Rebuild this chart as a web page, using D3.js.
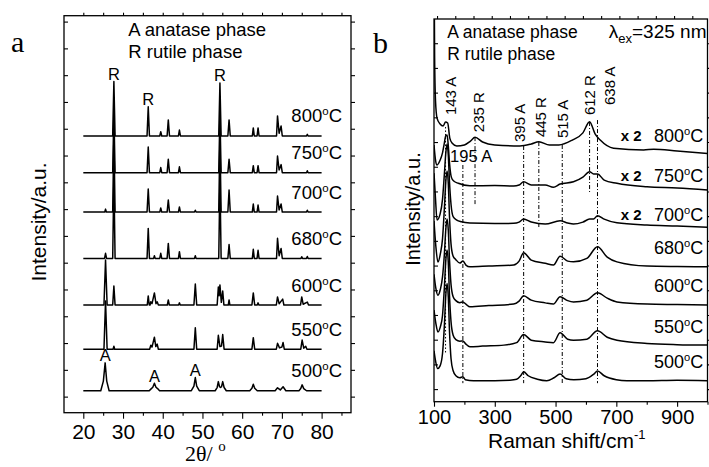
<!DOCTYPE html>
<html>
<head>
<meta charset="utf-8">
<script src="https://cdn.jsdelivr.net/npm/d3@7"></script>
<style>
  body { margin: 0; background: #fff; }
  svg { display: block; font-family: "Liberation Sans", Arial, sans-serif; }
  .serif { font-family: "Liberation Serif", "Times New Roman", serif; }
</style>
</head>
<body>
<svg id="chart" width="709" height="467"></svg>
<script>
// temperatures, top to bottom
const temps = ["800", "750", "700", "680", "600", "550", "500"];

// ---- panel a: XRD, 2theta vs intensity (a.u. above each baseline)
const xrdOffsets = [9.73, 8.36, 6.89, 5.16, 3.42, 1.77, 0.22];
const xrd800 = [[20,0],[27.4,0],[27.7,2.03],[28,0],[36.05,0],[36.35,1.09],[36.65,0],[39.25,0],[39.5,0.16],[39.75,0],
  [41.1,0],[41.4,0.6],[41.7,0],[43.95,0],[44.2,0.22],[44.45,0],[54.1,0],[54.4,1.98],[54.7,0],[56.4,0],[56.7,0.6],[57,0],
  [62.55,0],[62.8,0.3],[63.05,0],[63.75,0],[64,0.3],[64.25,0],[68.65,0],[68.9,0.75],[69.3,0.1],[69.8,0.37],[70.1,0],
  [76.2,0],[76.4,0.06],[76.6,0],[80,0]];
const xrd750 = [[20,0],[27.4,0],[27.7,2.3],[28,0],[36.05,0],[36.35,0.96],[36.65,0],[39.25,0],[39.5,0.19],[39.75,0],
  [41.1,0],[41.4,0.5],[41.7,0],[43.95,0],[44.2,0.22],[44.45,0],[54.1,0],[54.4,2.2],[54.7,0],[56.4,0],[56.7,0.5],[57,0],
  [62.55,0],[62.8,0.26],[63.05,0],[63.75,0],[64,0.26],[64.25,0],[68.65,0],[68.9,0.62],[69.3,0.1],[69.8,0.3],[70.1,0],
  [76.2,0],[76.4,0.07],[76.6,0],[80,0]];
const xrd700 = [[20,0],[25.4,0],[25.6,0.11],[25.8,0],[27.4,0],[27.7,2.9],[28,0],[36.05,0],[36.35,0.86],[36.65,0],
  [39.25,0],[39.5,0.15],[39.75,0],[41.1,0],[41.4,0.45],[41.7,0],[43.95,0],[44.2,0.19],[44.45,0],[48,0],[48.2,0.07],[48.4,0],
  [54.1,0],[54.4,2.8],[54.7,0],[56.4,0],[56.7,0.82],[57,0],[62.55,0],[62.8,0.3],[63.05,0],[63.75,0],[64,0.26],[64.25,0],
  [68.65,0],[68.9,0.6],[69.3,0.08],[69.8,0.3],[70.1,0],[76.2,0],[76.4,0.07],[76.6,0],[80,0]];
const xrd680 = [[20,0],[25.35,0],[25.6,0.19],[25.85,0],[27.4,0],[27.7,3.1],[28,0],[36.05,0],[36.35,1.12],[36.65,0],
  [37.7,0],[37.9,0.1],[38.1,0],[39.25,0],[39.5,0.19],[39.75,0],[41.1,0],[41.4,0.56],[41.7,0],[43.95,0],[44.2,0.25],[44.45,0],
  [48,0],[48.2,0.1],[48.4,0],[54.1,0],[54.4,3.0],[54.7,0],[56.4,0],[56.7,0.52],[57,0],[62.55,0],[62.8,0.34],[63.05,0],
  [63.75,0],[64,0.3],[64.25,0],[68.65,0],[68.9,0.75],[69.3,0.1],[69.8,0.37],[70.1,0],[74.8,0],[75,0.06],[75.2,0],
  [76.2,0],[76.4,0.07],[76.6,0],[80,0]];
const xrd600 = [[20,0],[25.2,0],[25.6,1.68],[26,0],[27.4,0],[27.7,0.71],[28,0],[36.1,0],[36.35,0.34],[36.6,0],[36.8,0],
  [37,0.12],[37.3,0.05],[37.9,0.45],[38.3,0.05],[38.6,0.12],[38.9,0],[41.15,0],[41.4,0.19],[41.65,0],[44,0],[44.2,0.08],[44.4,0],
  [47.85,0],[48.2,0.78],[48.55,0],[53.7,0],[54,0.67],[54.2,0.35],[54.4,0.75],[54.75,0.1],[55.1,0.52],[55.4,0],[56.5,0],
  [56.7,0.19],[56.9,0],[62.45,0],[62.8,0.45],[63.15,0],[63.8,0],[64,0.08],[64.2,0],[68.6,0],[68.9,0.3],[69.3,0.05],
  [70.2,0.22],[70.5,0],[74.7,0],[75,0.3],[75.35,0.03],[76.4,0.11],[76.7,0],[80,0]];
const xrd550 = [[20,0],[25.2,0],[25.6,1.8],[26,0],[27.5,0],[27.7,0.11],[27.9,0],[36.7,0],[37,0.15],[37.3,0.08],[37.9,0.45],
  [38.25,0.1],[38.6,0.19],[38.9,0],[47.85,0],[48.2,0.8],[48.55,0],[53.7,0],[54,0.52],[54.4,0.1],[54.8,0.12],[55.1,0.55],
  [55.45,0],[62.45,0],[62.8,0.43],[63.15,0],[68.6,0],[68.9,0.22],[69.4,0.05],[70,0.08],[70.3,0.25],[70.6,0],[74.75,0],
  [75.1,0.34],[75.5,0.04],[76,0.11],[76.3,0],[80,0]];
const xrd500 = [[20,0],[24.4,0],[25.05,0.36],[25.5,1.04],[25.9,0.36],[26.5,0],[36.6,0],[37,0.06],[37.5,0.13],[37.9,0.28],
  [38.3,0.13],[38.7,0.08],[39.2,0],[47.2,0],[47.85,0.17],[48.2,0.49],[48.55,0.17],[49.2,0],[53.2,0],[53.7,0.12],[54,0.34],
  [54.3,0.15],[54.55,0.12],[54.8,0.15],[55.1,0.34],[55.45,0.12],[56,0],[61.9,0],[62.45,0.09],[62.8,0.24],[63.15,0.09],
  [63.8,0],[68.3,0],[68.9,0.11],[69.6,0.03],[70.3,0.15],[71,0],[74.3,0],[74.75,0.08],[75.1,0.22],[75.5,0.08],[76.2,0],[80,0]];
const xrdSeries = [xrd800, xrd750, xrd700, xrd680, xrd600, xrd550, xrd500];
// phase marks: letter, 2theta, series index
const xrdMarks = [["R", 27.7, 0], ["R", 36.35, 0], ["R", 54.4, 0], ["A", 25.5, 6], ["A", 37.9, 6], ["A", 48.2, 6]];
const xrdTicks = [20, 30, 40, 50, 60, 70, 80];

// ---- panel b: Raman, shift vs intensity (a.u. above each baseline)
const ramanOffsets = [9.84, 8.26, 6.68, 4.98, 3.44, 1.78, 0.34];
const ramanScaled = [true, true, true, false, false, false, false];
const r800 = [[100,8.1],[102,3.64],[105,1.82],[110,1.13],[120,0.89],[130,0.81],[138,0.97],[145,0.93],[152,0.32],[160,0.11],
  [175,0],[200,0.04],[220,0.2],[235,0.35],[260,0.16],[300,0.04],[383,0],[420,0.08],[445,0.17],[480,0.04],[511,0.04],
  [555,0.24],[590,0.53],[612,0.98],[630,0.49],[647,0.24],[691,-0.09],[790,-0.16],[823,-0.13],[900,-0.2],[1000,-0.3]];
const r750 = [[100,1.62],[105,1.01],[110,0.81],[120,1.0],[128,1.3],[134,1.7],[139,2.0],[143,2.02],[147,1.6],[151,0.9],
  [157,0.32],[165,0.16],[180,0.07],[218,-0.03],[300,-0.02],[362,-0.04],[380,0],[395,0.13],[420,0],[466,0],[493,-0.09],
  [515,0.04],[559,0.13],[590,0.32],[612,0.54],[625,0.45],[638,0.45],[660,0.2],[702,0.07],[801,-0.07],[900,-0.12],[1000,-0.2]];
const r700 = [[100,2.06],[105,1.01],[110,0.16],[120,0.4],[128,1.0],[134,2.0],[139,2.9],[143,3.24],[147,2.8],[151,1.7],
  [156,0.8],[163,0.3],[175,0.16],[190,0.09],[218,0.04],[300,0.02],[362,0.03],[380,0.08],[395,0.2],[420,0.08],[466,0],
  [515,0.13],[540,0.04],[559,0],[590,0.08],[612,0.2],[625,0.2],[638,0.34],[660,0.2],[702,0.05],[801,-0.04],[900,-0.08],[1000,-0.13]];
const r680 = [[100,1.82],[106,0.81],[113,0.16],[121,0.5],[128,1.1],[134,2.3],[139,3.45],[143,3.85],[147,3.35],[151,2.0],
  [156,0.9],[163,0.4],[172,0.26],[185,0.12],[195,0.2],[205,0.04],[218,-0.03],[280,0],[362,0.04],[380,0.2],[395,0.54],
  [420,0.24],[466,0.11],[493,0.04],[515,0.4],[540,0.2],[559,0.17],[603,0.31],[638,0.78],[670,0.36],[702,0.17],[801,0],
  [900,-0.02],[1000,-0.03]];
const r600 = [[100,1.21],[106,0.65],[113,0.36],[121,0.6],[128,1.1],[134,2.0],[139,3.05],[143,3.44],[147,3.0],[151,1.8],
  [156,0.8],[163,0.3],[172,0.14],[185,0.06],[195,0.09],[205,0],[218,-0.11],[280,-0.06],[362,0],[380,0.12],[395,0.34],
  [420,0.16],[466,0.05],[493,0],[515,0.3],[540,0.14],[559,0.09],[603,0.16],[638,0.46],[670,0.24],[702,0.09],[801,0],
  [900,-0.02],[1000,-0.04]];
const r550 = [[100,1.42],[106,0.89],[113,0.53],[121,0.75],[128,1.2],[134,2.3],[139,3.45],[143,3.85],[147,3.35],[151,2.0],
  [156,0.95],[163,0.4],[172,0.22],[185,0.16],[195,0.17],[205,0.04],[218,-0.07],[260,-0.04],[330,0],[372,0.1],[395,0.43],
  [420,0.2],[466,0.13],[493,0.1],[515,0.5],[540,0.24],[559,0.2],[603,0.24],[638,0.58],[670,0.32],[702,0.2],[801,0.07],
  [900,0.02],[1000,0]];
const r500 = [[100,1.21],[105,0.81],[112,0.49],[120,0.6],[128,1.1],[134,2.2],[139,3.5],[143,3.93],[147,3.4],[151,2.0],
  [156,0.9],[163,0.4],[172,0.2],[185,0.12],[195,0.16],[203,0.04],[230,0],[300,0],[350,0.02],[372,0.06],[385,0.2],[395,0.36],
  [410,0.2],[440,0.06],[471,0],[495,0.12],[515,0.27],[535,0.08],[560,0.04],[600,0.08],[625,0.26],[638,0.39],[660,0.2],
  [700,0.04],[735,0],[800,0],[900,0.02],[1000,0]];
const ramanSeries = [r800, r750, r700, r680, r600, r550, r500];
// guide lines: shift, top, bottom (a.u.)
const ramanGuides = [[138,10.61,1.46],[195,9.07,0.24],[235,10.2,7.45],[395,9.84,0.24],[445,10.0,6.52],
  [522,9.88,0.24],[612,10.81,7.94],[638,10.89,0.24]];
// vertical band labels: text, shift, lower end (a.u.)
const ramanLabels = [["143 A",153,11.09],["235 R",246,10.4],["395 A",380,10.0],["445 R",449,10.2],
  ["515 A",523,10.16],["612 R",611,11.09],["638 A",677,11.5]];
const ramanTicks = [100, 300, 500, 700, 900];

const svg = d3.select("#chart");

const xA = d3.scaleLinear().domain([15.14, 87.4]).range([64, 351]);
const yA = d3.scaleLinear().domain([-0.6, 14.22]).range([412.7, 15.7]);
const xB = d3.scaleLinear().domain([100, 1000]).range([434, 707.5]);
const yB = d3.scaleLinear().domain([-0.51, 14.98]).range([401.7, 19]);

function frame(x, y, w, h) {
  svg.append("rect").attr("x", x).attr("y", y).attr("width", w).attr("height", h)
    .attr("fill", "none").attr("stroke", "#000").attr("stroke-width", 1.3);
}

function cleanAxis(g) {
  g.select(".domain").remove();
  g.selectAll("line").attr("stroke", "#000").attr("stroke-width", 1.1);
}

function supLabel(sel, t) {
  sel.text(t);
  sel.append("tspan").attr("dy", -7).attr("font-size", "0.62em").text("o");
  sel.append("tspan").attr("dy", 7).text("C");
}

// ================= panel a =================
svg.append("clipPath").attr("id", "clipA").append("rect")
  .attr("x", 64).attr("y", 15.7).attr("width", 287).attr("height", 397);

const lineA = d3.line().x(d => xA(d[0]));
xrdSeries.forEach((s, i) => {
  svg.append("path")
    .attr("clip-path", "url(#clipA)")
    .attr("d", lineA.y(d => yA(d[1] + xrdOffsets[i]))(s))
    .attr("fill", "none").attr("stroke", "#000").attr("stroke-width", 1.5)
    .attr("stroke-linejoin", "round");
});

frame(64, 15.7, 287, 397);

svg.append("g").attr("transform", "translate(0,412.7)")
  .call(d3.axisBottom(xA).tickValues(xrdTicks).tickSize(6).tickPadding(5.5))
  .call(cleanAxis)
  .call(g => g.selectAll("text").attr("font-size", 21).attr("font-family", "Liberation Sans, Arial").attr("fill", "#000"));
svg.append("g").attr("transform", "translate(0,412.7)")
  .call(d3.axisBottom(xA).tickValues(d3.range(25, 90, 10)).tickSize(3).tickFormat(""))
  .call(cleanAxis);
svg.append("g").attr("transform", "translate(0,15.7)")
  .call(d3.axisTop(xA).tickValues(d3.range(20, 90, 5)).tickSize(3).tickFormat(""))
  .call(cleanAxis);
svg.append("g").attr("transform", "translate(64,0)")
  .call(d3.axisRight(yA).tickValues(d3.range(0, 15)).tickSize(4).tickFormat(""))
  .call(cleanAxis);
svg.append("g").attr("transform", "translate(351,0)")
  .call(d3.axisRight(yA).tickValues(d3.range(0, 15)).tickSize(4).tickFormat(""))
  .call(cleanAxis);

// temperature labels
temps.forEach((t, i) => {
  svg.append("text").attr("x", 342).attr("y", yA(xrdOffsets[i]) - 13.5)
    .attr("text-anchor", "end").attr("font-size", 18.5)
    .call(supLabel, t);
});

// phase marks
xrdMarks.forEach(([letter, pos, si]) => {
  const pt = xrdSeries[si].find(p => p[0] === pos);
  svg.append("text").attr("x", xA(pos)).attr("y", yA(pt[1] + xrdOffsets[si]) - 1.5)
    .attr("text-anchor", "middle").attr("font-size", 16.5).text(letter);
});

svg.append("text").attr("x", 128.3).attr("y", 36).attr("font-size", 18.5).text("A anatase phase");
svg.append("text").attr("x", 128.3).attr("y", 57.5).attr("font-size", 18.5).text("R rutile phase");

svg.append("text").attr("transform", "translate(38,222) rotate(-90)")
  .attr("text-anchor", "middle").attr("dominant-baseline", "central")
  .attr("font-size", 21).text("Intensity/a.u.");

const xtA = svg.append("text").attr("class", "serif").attr("x", 185).attr("y", 461).attr("font-size", 22).text("2θ/ ");
xtA.append("tspan").attr("dy", -10).attr("font-size", 15).text("o");

svg.append("text").attr("class", "serif").attr("x", 11).attr("y", 52).attr("font-size", 30).text("a");

// ================= panel b =================
svg.append("clipPath").attr("id", "clipB").append("rect")
  .attr("x", 434).attr("y", 19).attr("width", 273.5).attr("height", 382.7);

ramanGuides.forEach(([s, top, bot], i) => {
  svg.append("line")
    .attr("x1", xB(s)).attr("x2", xB(s)).attr("y1", yB(top)).attr("y2", yB(bot))
    .attr("stroke", "#000").attr("stroke-width", 1)
    .attr("stroke-dasharray", i === 0 ? "1.5,2" : "4,2,1,2");
});

const lineB = d3.line().x(d => xB(d[0])).curve(d3.curveMonotoneX);
ramanSeries.forEach((s, i) => {
  svg.append("path")
    .attr("clip-path", "url(#clipB)")
    .attr("d", lineB.y(d => yB(d[1] + ramanOffsets[i]))(s))
    .attr("fill", "none").attr("stroke", "#000").attr("stroke-width", 1.5)
    .attr("stroke-linejoin", "round");
});

frame(434, 19, 273.5, 382.7);

svg.append("g").attr("transform", "translate(0,401.7)")
  .call(d3.axisBottom(xB).tickValues(ramanTicks).tickSize(5).tickPadding(3.4))
  .call(cleanAxis)
  .call(g => g.selectAll("text").attr("font-size", 20).attr("font-family", "Liberation Sans, Arial").attr("fill", "#000"));
svg.append("g").attr("transform", "translate(0,401.7)")
  .call(d3.axisBottom(xB).tickValues(d3.range(200, 1001, 200)).tickSize(3).tickFormat(""))
  .call(cleanAxis);
svg.append("g").attr("transform", "translate(0,19)")
  .call(d3.axisTop(xB).tickValues(d3.range(110, 1000, 60)).tickSize(3).tickFormat(""))
  .call(cleanAxis);
svg.append("g").attr("transform", "translate(434,0)")
  .call(d3.axisRight(yB).tickValues(d3.range(0, 15)).tickSize(4).tickFormat(""))
  .call(cleanAxis);
svg.append("g").attr("transform", "translate(707.5,0)")
  .call(d3.axisRight(yB).tickValues(d3.range(0, 15)).tickSize(4).tickFormat(""))
  .call(cleanAxis);

temps.forEach((t, i) => {
  const yb = yB(ramanOffsets[i]) - (ramanScaled[i] ? 10 : 19) + 6.5;
  svg.append("text").attr("x", 703.3).attr("y", yb)
    .attr("text-anchor", "end").attr("font-size", 18)
    .call(supLabel, t);
  if (ramanScaled[i]) {
    svg.append("text").attr("x", 641.5).attr("y", yb - 1)
      .attr("text-anchor", "end").attr("font-size", 15).attr("font-weight", "bold").text("x 2");
  }
});

ramanLabels.forEach(([txt, s, v]) => {
  svg.append("text")
    .attr("transform", `translate(${xB(s)},${yB(v)}) rotate(-90)`)
    .attr("dominant-baseline", "central").attr("font-size", 15).text(txt);
});
svg.append("text").attr("x", xB(153)).attr("y", yB(9.19)).attr("font-size", 16.5).text("195 A");

svg.append("text").attr("x", 447.3).attr("y", 38).attr("font-size", 17.5).text("A anatase phase");
svg.append("text").attr("x", 447.3).attr("y", 60).attr("font-size", 17.5).text("R rutile phase");
const lam = svg.append("text").attr("x", 706.5).attr("y", 38).attr("text-anchor", "end").attr("font-size", 19);
lam.append("tspan").text("λ");
lam.append("tspan").attr("dy", 5).attr("font-size", 13).text("ex");
lam.append("tspan").attr("dy", -5).text("=325 nm");

svg.append("text").attr("transform", "translate(413.3,209) rotate(-90)")
  .attr("text-anchor", "middle").attr("dominant-baseline", "central")
  .attr("font-size", 20).text("Intensity/a.u.");

const xtB = svg.append("text").attr("x", 488).attr("y", 448).attr("font-size", 21).text("Raman shift/cm");
xtB.append("tspan").attr("dy", -9).attr("font-size", 13).text("-1");

svg.append("text").attr("class", "serif").attr("x", 373).attr("y", 53).attr("font-size", 30).text("b");
</script>
</body>
</html>
